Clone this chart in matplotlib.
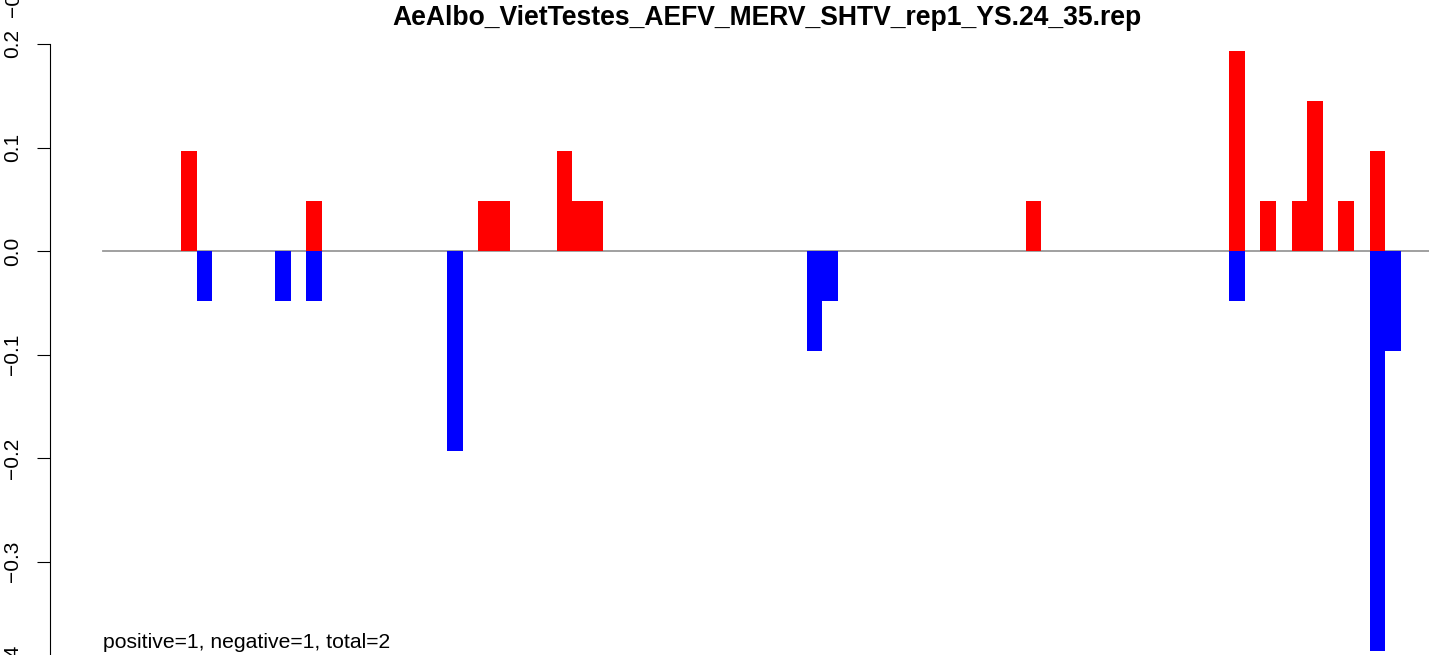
import matplotlib
matplotlib.use("Agg")
import matplotlib.pyplot as plt

plt.rcParams['font.family'] = ['Liberation Sans', 'DejaVu Sans']

# ---- data ----
title = "AeAlbo_VietTestes_AEFV_MERV_SHTV_rep1_YS.24_35.rep"
n_bins = 83
pos_index = [5, 13, 24, 25, 29, 30, 31, 59, 72, 74, 76, 77, 79, 81]
pos_values = [0.0966, 0.0483, 0.0483, 0.0483, 0.0966, 0.0483, 0.0483, 0.0483,
              0.1932, 0.0483, 0.0483, 0.1449, 0.0483, 0.0966]
neg_index = [6, 11, 13, 22, 45, 46, 72, 81, 82]
neg_values = [-0.0483, -0.0483, -0.0483, -0.1932, -0.0966, -0.0483, -0.0483,
              -0.3864, -0.0966]
ytick_values = [0.2, 0.1, 0.0, -0.1, -0.2, -0.3, -0.4]
ytick_labels = ["0.2", "0.1", "0.0", "\u22120.1", "\u22120.2", "\u22120.3", "\u22120.4"]
summary = "positive=1, negative=1, total=2"

# ---- figure ----
W, H = 1429, 655
fig = plt.figure(figsize=(W / 100, H / 100), dpi=100)

left_px, right_px = 103, 1401
top_px, bottom_px = 0, 700
ax = fig.add_axes([left_px / W, (H - bottom_px) / H,
                   (right_px - left_px) / W, (bottom_px - top_px) / H])

scale = 1035.0  # pixels per data unit
zero_px = 251
ax.set_xlim(0, n_bins)
ax.set_ylim(-(bottom_px - zero_px) / scale, (zero_px - top_px) / scale)

ax.bar(pos_index, pos_values, width=1.0, align='edge', color='#ff0000',
       linewidth=0, zorder=2)
ax.bar(neg_index, neg_values, width=1.0, align='edge', color='#0000ff',
       linewidth=0, zorder=2)

ax.plot([0, (W - left_px) / ((right_px - left_px) / n_bins) + 1], [0, 0],
        color='#999999', linewidth=1.3, zorder=1, clip_on=False)

for s in ['top', 'right', 'bottom']:
    ax.spines[s].set_visible(False)
ax.spines['left'].set_position(('axes', (50 - left_px) / (right_px - left_px)))
ax.spines['left'].set_bounds(-0.4, 0.2)
ax.spines['left'].set_linewidth(0.8)
ax.set_xticks([])
ax.set_yticks(ytick_values)
ax.set_yticklabels(ytick_labels, rotation=90, va='center', fontsize=15)
ax.tick_params(axis='y', length=9.4, width=0.8, pad=11.0)
ax.patch.set_visible(False)

fig.text(767 / W, (H - 25) / H, title, ha='center', va='baseline',
         fontsize=19.1, fontweight='bold')
fig.text(103 / W, (H - 648) / H, summary, ha='left', va='baseline', fontsize=15.25)
# partially visible label from the panel above
fig.text(13.5 / W, (H - 17) / H, "\u22120.4", rotation=90, ha='center',
         va='bottom', fontsize=15)

fig.savefig("out.png", dpi=100)
